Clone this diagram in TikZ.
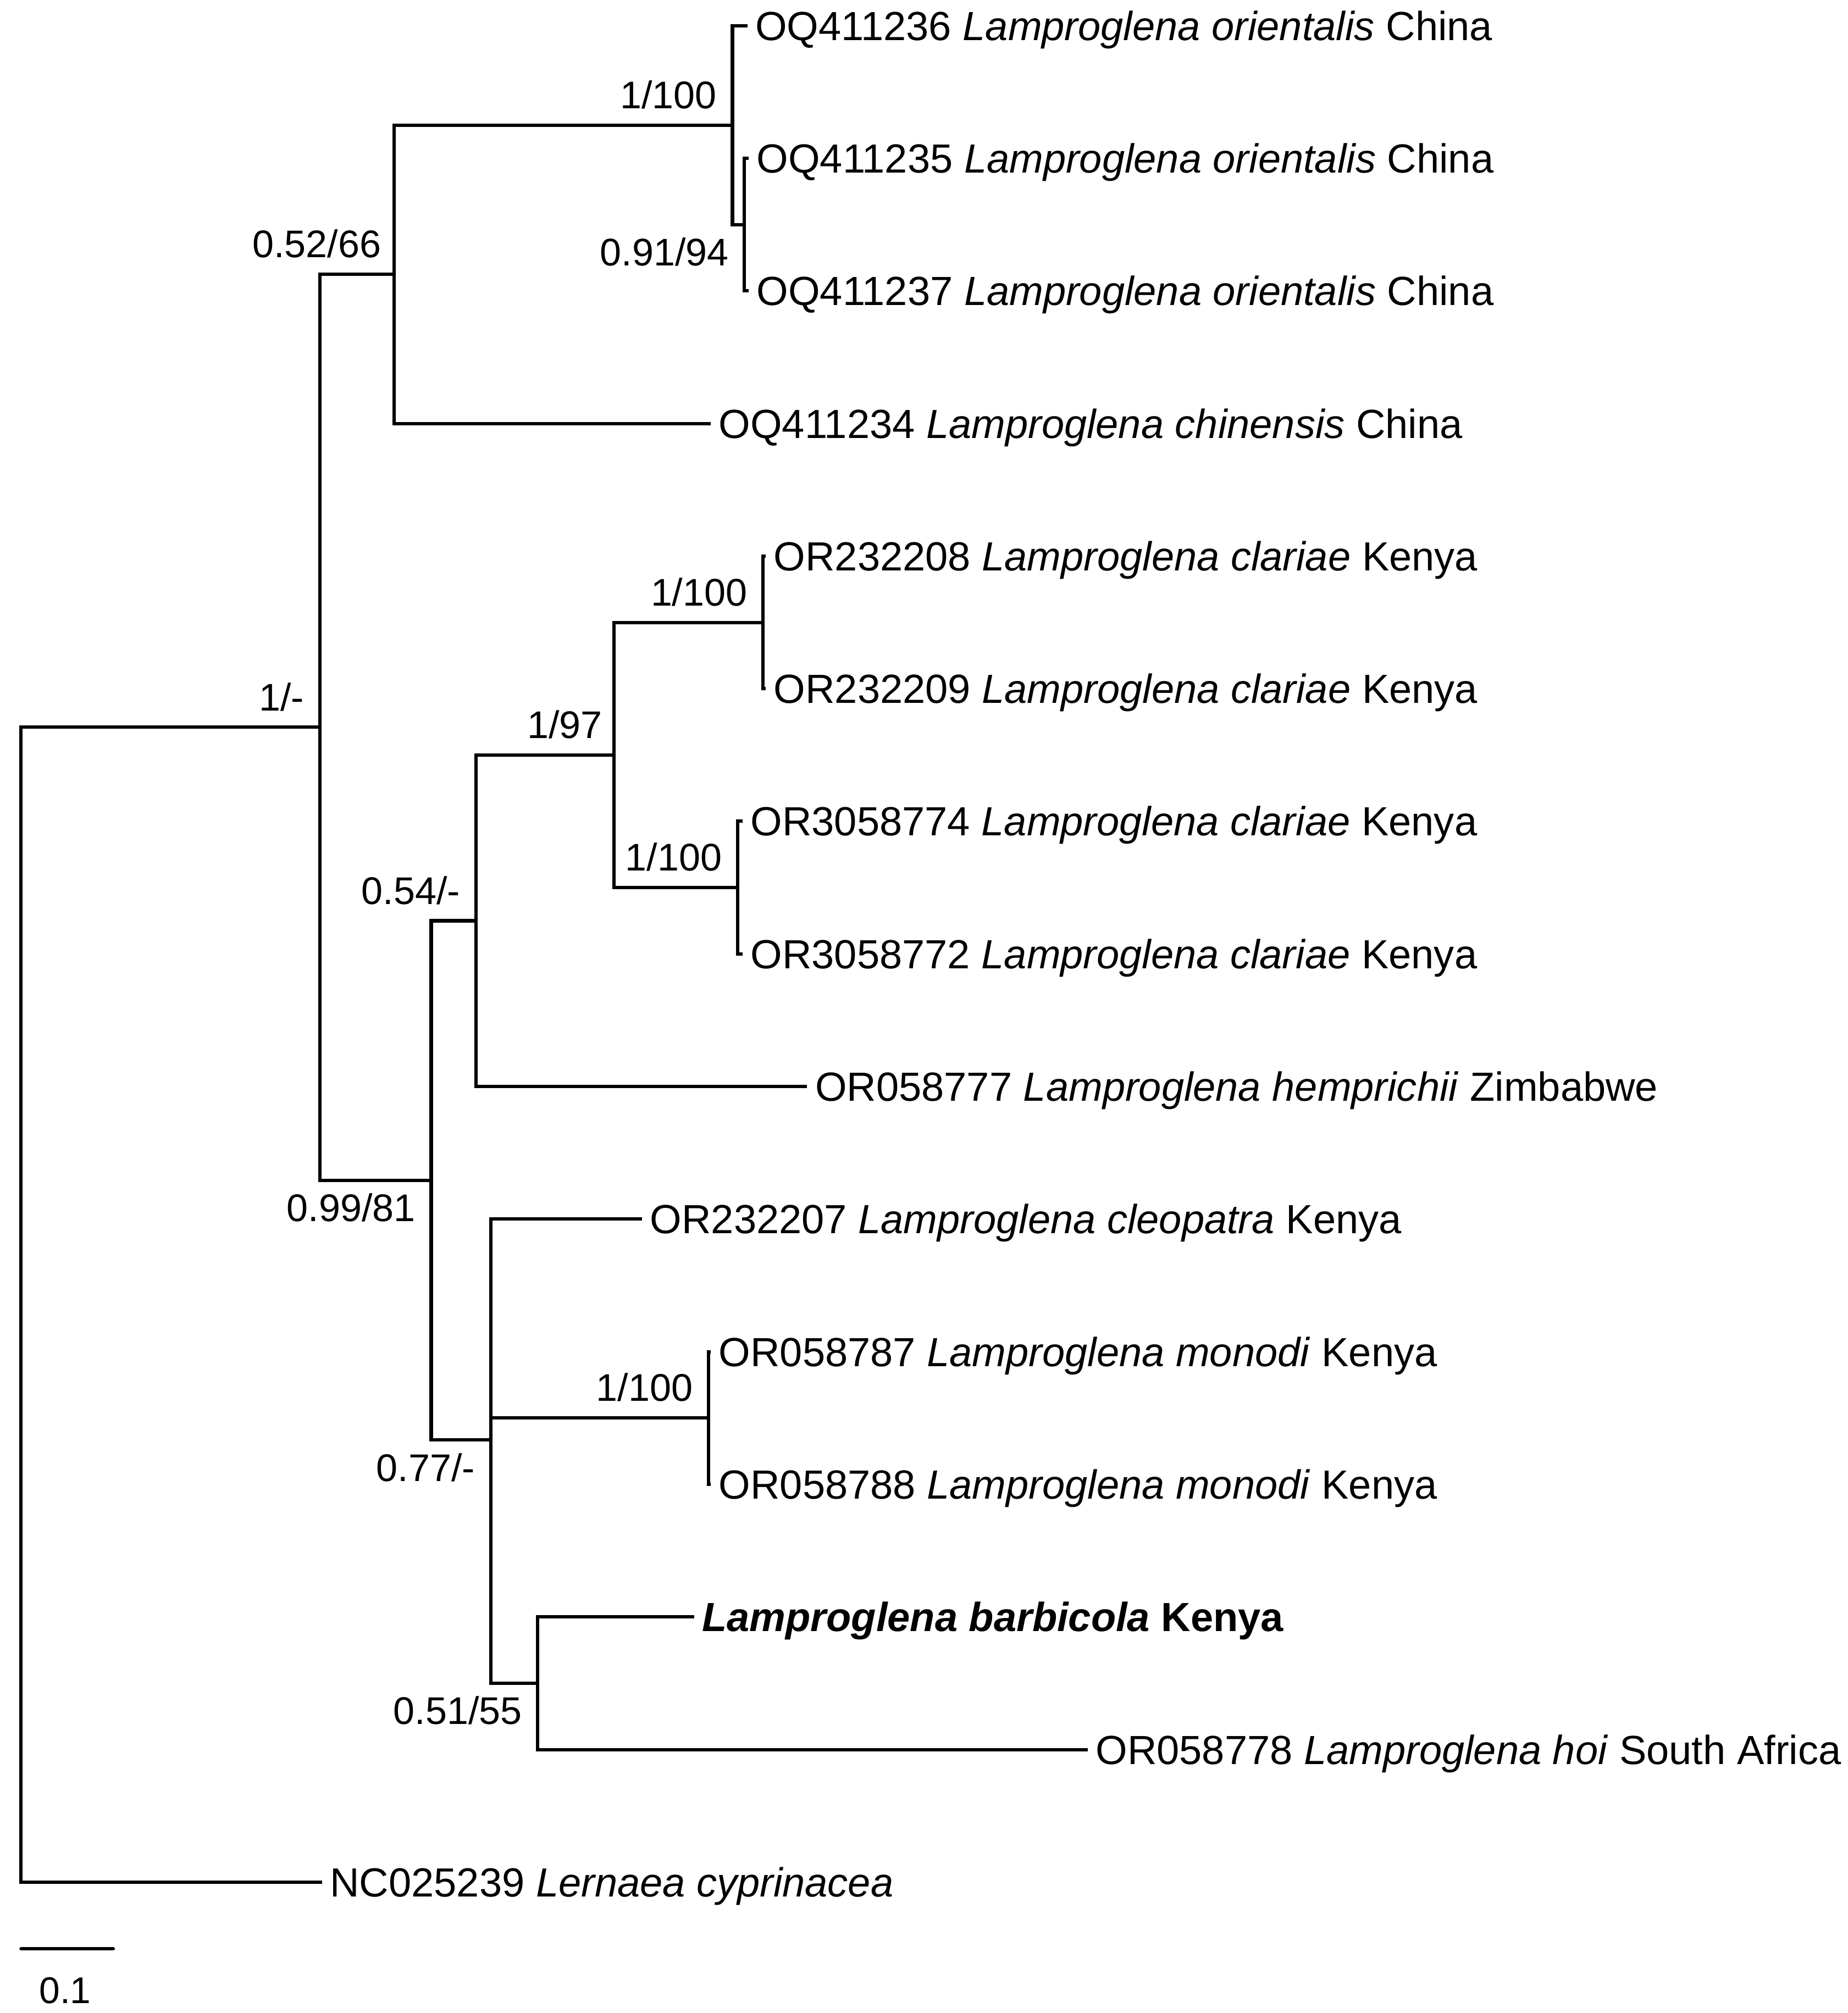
\documentclass[tikz,border=0pt]{standalone}
\usepackage{fontspec}
\setmainfont{Liberation Sans}
\usetikzlibrary{calc}

\begin{document}
\begin{tikzpicture}[x=0.5pt,y=-0.5pt,line width=1.3pt,
  leaf/.style={anchor=west,inner xsep=2.5pt,inner ysep=0pt,text height=11.35pt,text depth=0pt,font=\fontsize{15.85}{19}\selectfont},
  supa/.style={anchor=base east,inner sep=0pt,xshift=-5.5pt,yshift=6.5pt,font=\fontsize{15}{18}\selectfont},
  supb/.style={anchor=base east,inner sep=0pt,xshift=-5.5pt,yshift=-16pt,font=\fontsize{15}{18}\selectfont}]
  \useasboundingbox (0,0) rectangle (1439,1568);
  % nodos internos
  \coordinate (nRoot) at (16.4,1016.3); \coordinate (nIngroup) at (249,566.5);
  \coordinate (nAsia) at (307,213.6); \coordinate (nOri) at (570.4,97.6); \coordinate (nOriB) at (579.7,175);
  \coordinate (nAfr) at (335.8,919.4); \coordinate (nClar) at (370.6,717.2); \coordinate (nClarAB) at (478.3,588.1);
  \coordinate (nClarA) at (594.2,484.8); \coordinate (nClarB) at (574.5,691.4);
  \coordinate (nKen) at (382.2,1121.7); \coordinate (nMon) at (551.7,1104.5); \coordinate (nBarb) at (418.8,1311);
  % terminales
  \node[leaf] (tOri36) at (582,20) {OQ411236 \textit{Lamproglena orientalis} China};
  \node[leaf] (tOri35) at (583,123.3) {OQ411235 \textit{Lamproglena orientalis} China};
  \node[leaf] (tOri37) at (583,226.6) {OQ411237 \textit{Lamproglena orientalis} China};
  \node[leaf] (tChi34) at (553.5,329.9) {OQ411234 \textit{Lamproglena chinensis} China};
  \node[leaf] (tCla08) at (596.3,433.2) {OR232208 \textit{Lamproglena clariae} Kenya};
  \node[leaf] (tCla09) at (596.3,536.5) {OR232209 \textit{Lamproglena clariae} Kenya};
  \node[leaf] (tCla74) at (578.3,639.7) {OR3058774 \textit{Lamproglena clariae} Kenya};
  \node[leaf] (tCla72) at (578.3,743.0) {OR3058772 \textit{Lamproglena clariae} Kenya};
  \node[leaf] (tHem77) at (628.6,846.3) {OR058777 \textit{Lamproglena hemprichii} Zimbabwe};
  \node[leaf] (tCle07) at (500,949.6) {OR232207 \textit{Lamproglena cleopatra} Kenya};
  \node[leaf] (tMon87) at (553.5,1052.9) {OR058787 \textit{Lamproglena monodi} Kenya};
  \node[leaf] (tMon88) at (553.5,1156.2) {OR058788 \textit{Lamproglena monodi} Kenya};
  \node[leaf] (tBarb) at (540.5,1259.5) {\textbf{\textit{Lamproglena barbicola} Kenya}};
  \node[leaf] (tHoi78) at (847,1362.8) {OR058778 \textit{Lamproglena hoi} South Africa};
  \node[leaf] (tLer39) at (250.7,1466.1) {NC025239 \textit{Lernaea cyprinacea}};
  % ramas
  \draw (nRoot) |- (nIngroup) (nRoot) |- (tLer39.west);
  \draw (nIngroup) |- (nAsia) (nIngroup) |- (nAfr);
  \draw (nAsia) |- (nOri) (nAsia) |- (tChi34.west);
  \draw (nOri) |- (tOri36.west) (nOri) |- (nOriB);
  \draw (nOriB) |- (tOri35.west) (nOriB) |- (tOri37.west);
  \draw (nAfr) |- (nClar) (nAfr) |- (nKen);
  \draw (nClar) |- (nClarAB) (nClar) |- (tHem77.west);
  \draw (nClarAB) |- (nClarA) (nClarAB) |- (nClarB);
  \draw (nClarA) |- (tCla08.west) (nClarA) |- (tCla09.west);
  \draw (nClarB) |- (tCla74.west) (nClarB) |- (tCla72.west);
  \draw (nKen) |- (tCle07.west) (nKen) |- (nMon) (nKen) |- (nBarb);
  \draw (nMon) |- (tMon87.west) (nMon) |- (tMon88.west);
  \draw (nBarb) |- (tBarb.west) (nBarb) |- (tHoi78.west);
  % soportes (PP/BS)
  \node[supa] (sIngroup) at (nIngroup) {1/-};
  \node[supa] (sAsia) at ($(nAsia)+(2,0)$) {0.52/66};
  \node[supa] (sOri) at (nOri) {1/100};
  \node[supb] (sOriB) at (nOriB) {0.91/94};
  \node[supa] (sClarA) at (nClarA) {1/100};
  \node[supa] (sClarAB) at ($(nClarAB)+(3,0)$) {1/97};
  \node[supa] (sClarB) at (nClarB) {1/100};
  \node[supa] (sClar) at (nClar) {0.54/-};
  \node[supb] (sAfr) at (nAfr) {0.99/81};
  \node[supb] (sKen) at (nKen) {0.77/-};
  \node[supa] (sMon) at (nMon) {1/100};
  \node[supb] (sBarb) at (nBarb) {0.51/55};
  % barra de escala
  \coordinate (bar0) at (16.4,1518); \coordinate (bar1) at (88.2,1518);
  \draw[line cap=round] (bar0) -- (bar1);
  \node[anchor=base,inner sep=0pt,font=\fontsize{14.5}{17}\selectfont] (lBar) at ($(bar0)!0.5!(bar1)+(-1.6,42.7)$) {0.1};
\end{tikzpicture}
\end{document}
